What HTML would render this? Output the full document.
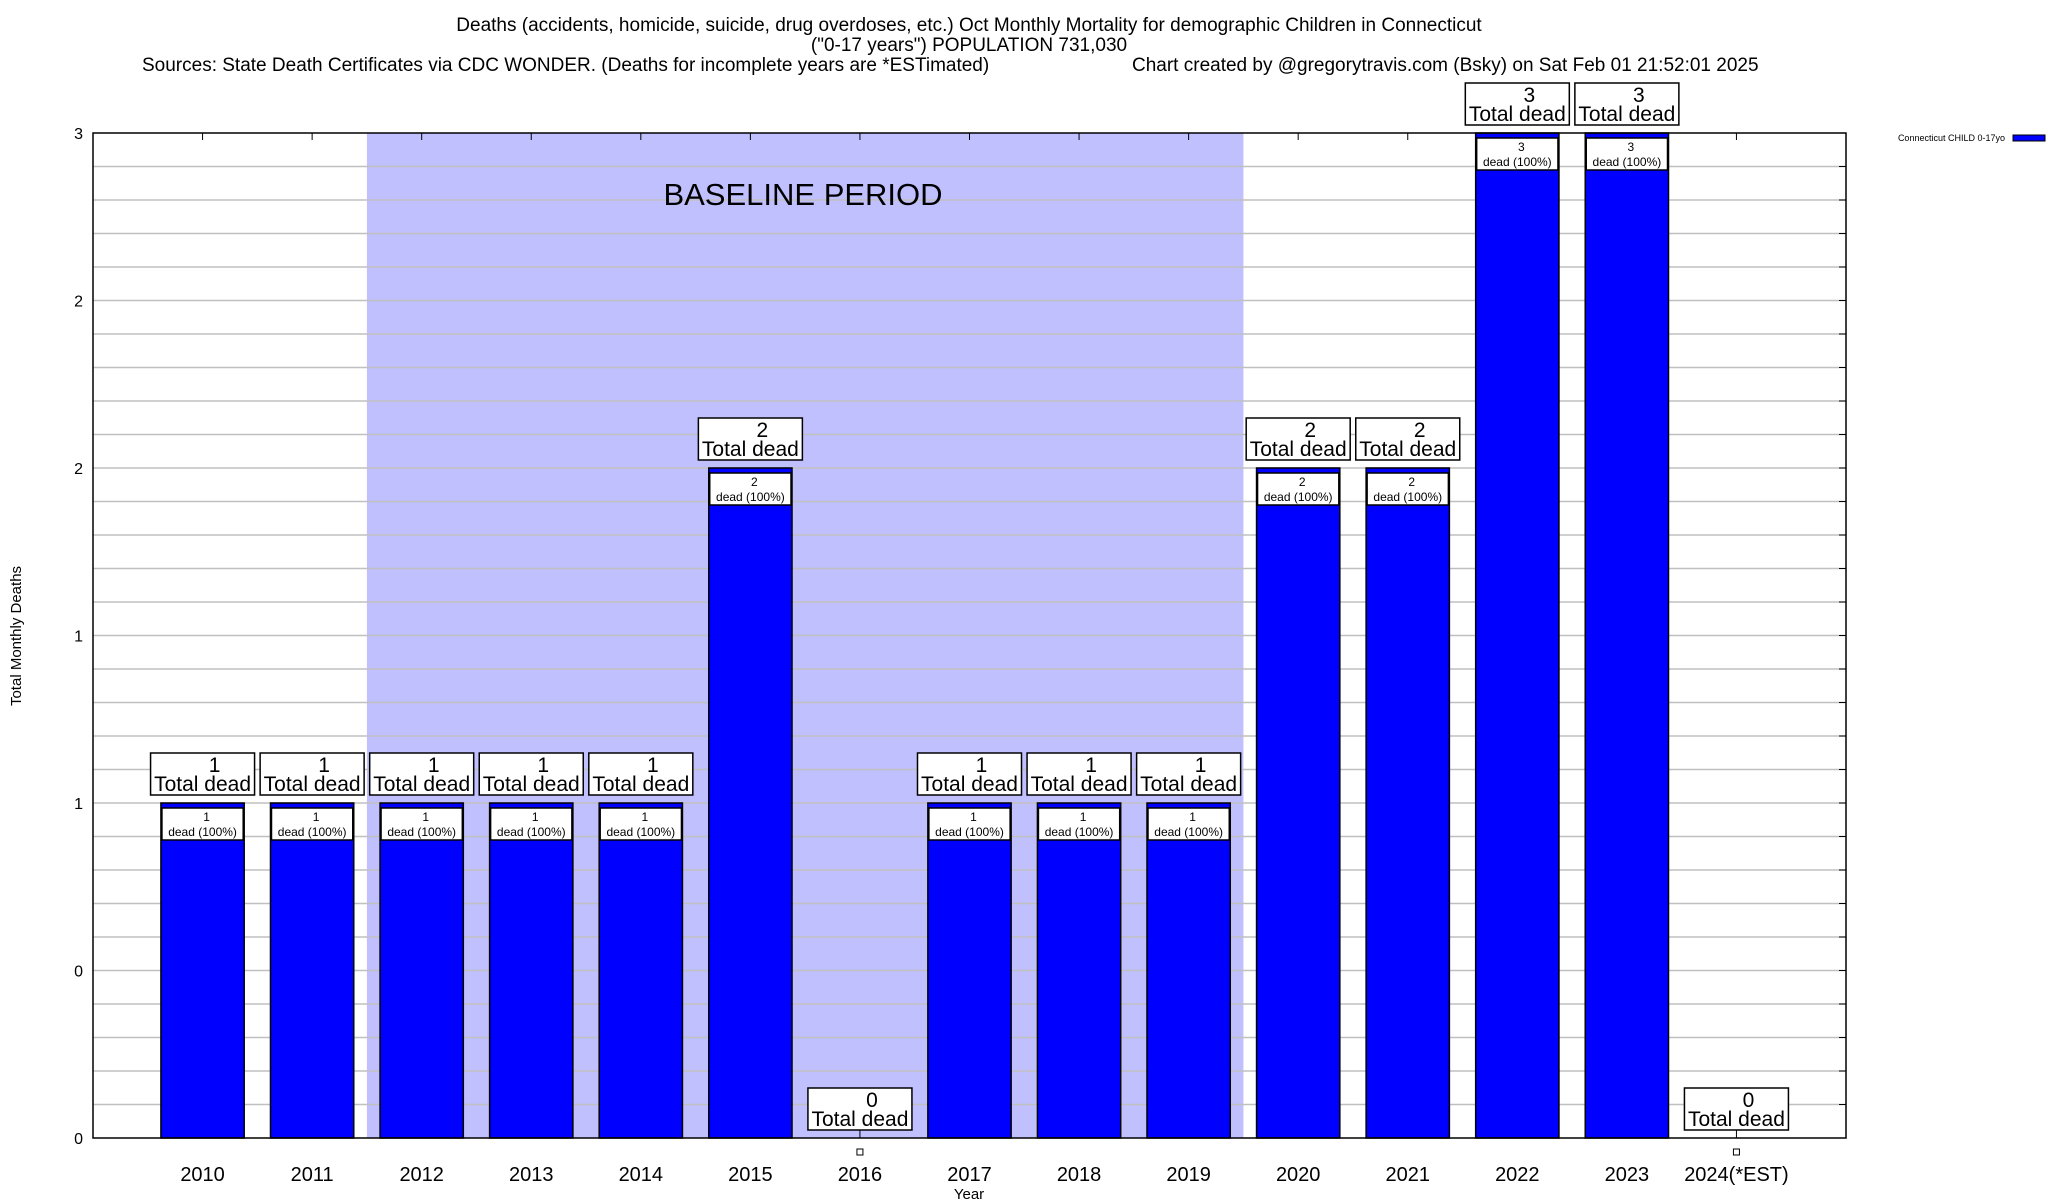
<!DOCTYPE html>
<html><head><meta charset="utf-8">
<style>
html,body{margin:0;padding:0;background:#fff;}
svg{display:block;font-family:"Liberation Sans",sans-serif;}
</style></head>
<body>
<svg id="chart" width="2048" height="1200" viewBox="0 0 2048 1200" xmlns="http://www.w3.org/2000/svg">
<g font-size="19" fill="#000">
<text x="969" y="31" text-anchor="middle">Deaths (accidents, homicide, suicide, drug overdoses, etc.) Oct Monthly Mortality for demographic Children in Connecticut</text>
<text x="969" y="51" text-anchor="middle">("0-17 years") POPULATION 731,030</text>
<text x="142" y="71">Sources: State Death Certificates via CDC WONDER. (Deaths for incomplete years are *ESTimated)</text>
<text x="1132" y="71">Chart created by @gregorytravis.com (Bsky) on Sat Feb 01 21:52:01 2025</text>
</g>
<g id="plot"></g>
<text x="0" y="0" font-size="15" text-anchor="middle" transform="translate(21,636) rotate(-90)">Total Monthly Deaths</text>
<text x="969" y="1199" font-size="15" text-anchor="middle">Year</text>
<g>
<text x="2005" y="141" font-size="9" text-anchor="end">Connecticut CHILD 0-17yo</text>
<rect x="2013" y="135" width="32" height="6" fill="#0000ff" stroke="#000" stroke-width="1"/>
</g>
</svg>
<script>
const categories = ["2010","2011","2012","2013","2014","2015","2016","2017","2018","2019","2020","2021","2022","2023","2024(*EST)"];
const deaths = [1,1,1,1,1,2,0,1,1,1,2,2,3,3,0];
const yTickValues = [0,0.5,1,1.5,2,2.5,3];
const yTickLabels = ["0","0","1","1","2","2","3"];
const baselineStart = 2;   // index of first baseline year (2012)
const baselineEnd = 9;     // index of last baseline year (2019)

const NS = "http://www.w3.org/2000/svg";
const L = 93, R = 1846, T = 133, B = 1138;
const yMax = 3, slots = categories.length + 1;
const xs = i => L + (i + 1) * (R - L) / slots;
const ys = v => B - v * (B - T) / yMax;
const slotW = (R - L) / slots;
const barW = slotW * 0.76;
const plot = document.getElementById('plot');
function el(tag, attrs, parent) {
  const e = document.createElementNS(NS, tag);
  for (const k in attrs) e.setAttribute(k, attrs[k]);
  (parent || plot).appendChild(e);
  return e;
}
function txt(str, attrs, parent) { const e = el('text', attrs, parent); e.textContent = str; return e; }

// baseline shading
const shade = el('rect', {x: xs(baselineStart) - slotW/2, y: T, width: xs(baselineEnd) - xs(baselineStart) + slotW, height: B - T, fill: '#c0c0ff'});



// grid lines every 0.1
for (let k = 1; k < 30; k++) {
  const v = k / 10;
  const g = el('line', {x1: L, x2: R, y1: ys(v), y2: ys(v), stroke: '#c0c0c0', 'stroke-width': 1.5});
  
  
  const t1 = el('line', {x1: R - 7, x2: R, y1: ys(v), y2: ys(v), stroke: '#000', 'stroke-width': 1});
  
  
}
const bl = txt('BASELINE PERIOD', {x: 803, y: 205, 'font-size': 31, 'text-anchor': 'middle'});



// y tick labels
yTickValues.forEach((v, i) => {
  const t = txt(yTickLabels[i], {x: L - 10, y: ys(v) + 6, 'font-size': 16, 'text-anchor': 'end'});
  
  
});

// bars
categories.forEach((c, i) => {
  const v = deaths[i];
  const cx = xs(i);
  const g = el('g', {});
  
  
  const tk = el('line', {x1: cx, x2: cx, y1: T, y2: T + 7, stroke: '#000', 'stroke-width': 1}, g);
  
  
  if (v > 0) {
    const top = ys(v);
    const bar = el('rect', {x: cx - barW/2, y: top, width: barW, height: B - top, fill: '#0000ff', stroke: '#000', 'stroke-width': 1.5}, g);
    
    
    const ib = el('rect', {x: cx - barW/2 + 1, y: top + 5, width: barW - 2, height: 32, fill: '#fff', stroke: '#000', 'stroke-width': 1.5}, g);
    
    
    const n = txt(String(v), {x: cx + 4, y: top + 18, 'font-size': 12, 'text-anchor': 'middle'}, g);
    
    
    const d = txt('dead (100%)', {x: cx, y: top + 33, 'font-size': 12, 'text-anchor': 'middle'}, g);
    
    
  }
  const bTop = v > 0 ? ys(v) - 50 : B - 50;
  const box = el('rect', {x: cx - 52, y: bTop, width: 104, height: 42, fill: '#fff', stroke: '#000', 'stroke-width': 1.5}, g);
  
  
  const tv = txt(String(v), {x: cx + 12, y: bTop + 19, 'font-size': 21, 'text-anchor': 'middle'}, g);
  
  
  const tt = txt('Total dead', {x: cx, y: bTop + 38, 'font-size': 21, 'text-anchor': 'middle'}, g);
  
  
  if (v === 0) {
    const ln = el('line', {x1: cx, x2: cx, y1: B - 8, y2: B, stroke: '#000', 'stroke-width': 1}, g);
    
    
    const sq = el('rect', {x: cx - 3, y: B + 11, width: 6, height: 6, fill: '#fff', stroke: '#000', 'stroke-width': 1}, g);
    
    
  }
  const xl = txt(c, {x: cx, y: B + 43, 'font-size': 20, 'text-anchor': 'middle'}, g);
  
  
});

const frame = el('rect', {x: L, y: T, width: R - L, height: B - T, fill: 'none', stroke: '#000', 'stroke-width': 1.5});


</script>
</body></html>
